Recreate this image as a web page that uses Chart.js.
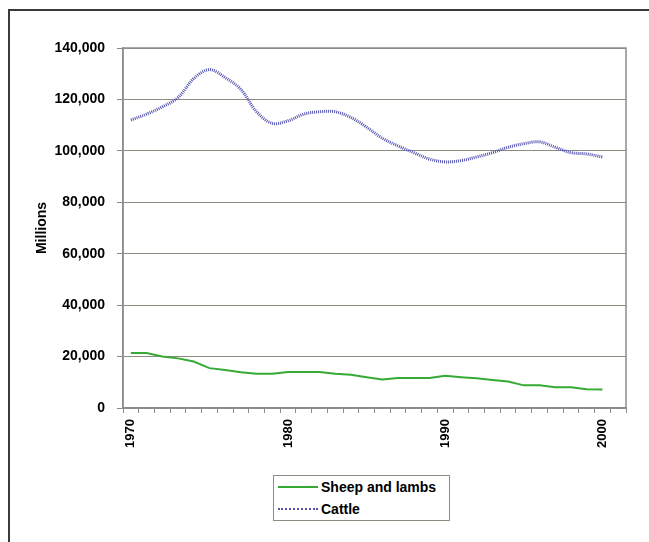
<!DOCTYPE html>
<html>
<head>
<meta charset="utf-8">
<script src="https://cdn.jsdelivr.net/npm/chart.js@4"></script>
<style>
  body { margin: 0; background: #fff; font-family: "Liberation Sans", Arial, sans-serif; }
  #wrap { position: relative; width: 649px; height: 542px; overflow: hidden; }
  #frame { position: absolute; left: 8px; top: 9px; width: 700px; height: 600px;
           border-left: 2px solid #3a3a3a; border-top: 2px solid #3a3a3a; }
  #chart { position: absolute; left: 0; top: 0; }
  #legend { position: absolute; left: 273px; top: 475px; width: 175px; height: 44px;
            border: 1px solid #8c8c80; background: #fff; font-weight: bold; font-size: 14px; color: #000; }
  .row { display: flex; align-items: center; height: 22px; padding-left: 4px; }
  .swatch { width: 40px; height: 0; margin-right: 3px; }
</style>
</head>
<body>
<div id="wrap">
  <div id="frame"></div>
  <canvas id="chart" width="649" height="542"></canvas>
  <div id="legend"></div>
</div>
<script>
// Categories (one empty slot after 2000, as in the source chart)
const years = ['1970', '1971', '1972', '1973', '1974', '1975', '1976', '1977', '1978', '1979',
  '1980', '1981', '1982', '1983', '1984', '1985', '1986', '1987', '1988', '1989',
  '1990', '1991', '1992', '1993', '1994', '1995', '1996', '1997', '1998', '1999',
  '2000', '2001'];

// Series values (millions)
const sheepAndLambs = [21400, 21400, 20000, 19300, 18100, 15500, 14800, 13900, 13300, 13300,
  14000, 14000, 14000, 13300, 12900, 12000, 11100, 11700, 11700, 11700,
  12500, 12000, 11600, 10900, 10300, 8800, 8800, 8100, 8100, 7300,
  7200, null];

const cattle = [112000, 114300, 117100, 120700, 128100, 131600, 128500, 123900, 115200, 110700,
  111700, 114300, 115200, 115200, 113000, 109200, 104900, 101900, 99300, 96800,
  95700, 96200, 97600, 99300, 101400, 102800, 103500, 101400, 99300, 98800,
  97600, null];

const yTicks = [0, 20000, 40000, 60000, 80000, 100000, 120000, 140000];
const xLabelYears = ['1970', '1980', '1990', '2000'];

const axisGray = '#8c8c8c';
const gridOlive = '#8c8c80';

/**
 * Draw the grey border round the plot area
 */
const plotBorder = {
  id: 'plotBorder',
  afterDraw(chart) {
    const a = chart.chartArea;
    const ctx = chart.ctx;
    ctx.save();
    ctx.strokeStyle = axisGray;
    ctx.lineWidth = 1.5;
    ctx.strokeRect(a.left, a.top, a.right - a.left, a.bottom - a.top);
    ctx.restore();
  }
};

const datasets = [
  {
    label: 'Sheep and lambs',
    data: sheepAndLambs,
    borderColor: '#35aa35',
    borderWidth: 2,
    pointRadius: 0,
    tension: 0
  },
  {
    label: 'Cattle',
    data: cattle,
    borderColor: '#5252b0',
    borderWidth: 3,
    borderDash: [1, 1],
    pointRadius: 0,
    tension: 0.35
  }
];

new Chart(document.getElementById('chart'), {
  type: 'line',
  data: { labels: years, datasets: datasets },
  plugins: [plotBorder],
  options: {
    responsive: false,
    animation: false,
    layout: { padding: { left: 20, top: 48, right: 23, bottom: 74 } },
    plugins: { legend: { display: false }, tooltip: { enabled: false } },
    scales: {
      x: {
        offset: true,
        grid: { offset: true, drawOnChartArea: false, drawTicks: true, tickLength: 5, color: axisGray },
        border: { color: axisGray, width: 1.5 },
        ticks: {
          autoSkip: false,
          minRotation: 90,
          maxRotation: 90,
          padding: 6,
          color: '#000',
          font: { family: 'Liberation Sans', size: 13, weight: 'bold' },
          callback: function(v, i) {
            const y = years[i];
            return xLabelYears.includes(y) ? y : '';
          }
        },
        afterFit: function(scale) { scale.height = 60; }
      },
      y: {
        min: 0,
        max: 140000,
        afterBuildTicks: function(scale) { scale.ticks = yTicks.map(v => ({ value: v })); },
        grid: { color: gridOlive, tickLength: 6, lineWidth: 1 },
        border: { color: axisGray, width: 1.5 },
        ticks: {
          padding: 12,
          color: '#000',
          font: { family: 'Liberation Sans', size: 14, weight: 'bold' },
          callback: v => v.toLocaleString('en-US')
        },
        title: {
          display: true,
          text: 'Millions',
          color: '#000',
          padding: { top: 14, bottom: 0 },
          font: { family: 'Liberation Sans', size: 14, weight: 'bold' }
        },
        afterFit: function(scale) { scale.width = 103; }
      }
    }
  }
});

// Legend built from the datasets
const legend = document.getElementById('legend');
datasets.forEach(ds => {
  const row = document.createElement('div');
  row.className = 'row';
  const sw = document.createElement('span');
  sw.className = 'swatch';
  sw.style.borderTop = ds.borderDash ? '2px dotted ' + ds.borderColor : '2px solid ' + ds.borderColor;
  const txt = document.createElement('span');
  txt.textContent = ds.label;
  row.appendChild(sw);
  row.appendChild(txt);
  legend.appendChild(row);
});
</script>
</body>
</html>
